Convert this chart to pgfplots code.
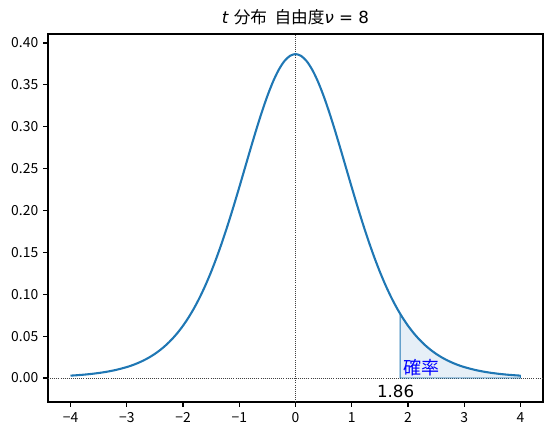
\documentclass[border=0pt]{standalone}
\usepackage{fontspec}
\setmainfont{DejaVu Sans}
\newfontfamily\cjk{Noto Sans CJK JP}
\usepackage{pgfplots}
\pgfplotsset{compat=1.18}
\definecolor{C0}{HTML}{1F77B4}
\definecolor{fillc}{RGB}{230,239,247}
\begin{document}
\begin{tikzpicture}
\useasboundingbox (-34.56pt,-24.48pt) rectangle (363.6pt,289.44pt);
\begin{axis}[
  at={(0,0)}, anchor=south west,
  scale only axis, width=356.4pt, height=264.96pt,
  xmin=-4.4, xmax=4.4, ymin=-0.0287, ymax=0.4107,
  axis line style={line width=0.8pt},
  tick align=outside, major tick length=3.5pt,
  xtick pos=bottom, ytick pos=left,
  every tick/.style={black, line width=0.8pt},
  xtick={-4,-3,-2,-1,0,1,2,3,4},
  xticklabels={−4,−3,−2,−1,0,1,2,3,4},
  ytick={0,0.05,0.1,0.15,0.2,0.25,0.3,0.35,0.4},
  yticklabels={0.00,0.05,0.10,0.15,0.20,0.25,0.30,0.35,0.40},
  ticklabel style={font=\cjk\fontsize{10}{12}\selectfont},
  xticklabel style={yshift=-0.5pt},
  title={{\itshape t}\ {\cjk 分布\ \ 自由度}{\itshape ν} = 8},
  title style={font=\fontsize{12}{14}\selectfont, yshift=-3pt},
  clip=false,
]
\addplot[black!75, line width=0.45pt, dash pattern=on 0.6pt off 0.9pt] coordinates {(-4.4,0) (4.4,0)};
\addplot[black!75, line width=0.45pt, dash pattern=on 0.6pt off 0.9pt] coordinates {(0,-0.0287) (0,0.4107)};
\addplot[fill=fillc, draw=C0, line width=0.6pt] coordinates {
(1.86,0) (1.86,0.07674) (1.9,0.07237) (2.0,0.06237) (2.1,0.05363) (2.2,0.04600)
(2.3,0.03940) (2.4,0.03370) (2.5,0.02879) (2.6,0.02457) (2.7,0.02097)
(2.8,0.01788) (2.9,0.01525) (3.0,0.01301) (3.2,0.00948) (3.4,0.00692)
(3.6,0.00507) (3.8,0.00373) (4.0,0.00276) (4.0,0)} -- cycle;
\addplot[C0, line width=1.5pt, smooth] coordinates {
(-4.0,0.00276) (-3.8,0.00373) (-3.6,0.00507) (-3.4,0.00692) (-3.2,0.00948)
(-3.0,0.01301) (-2.9,0.01525) (-2.8,0.01788) (-2.7,0.02097) (-2.6,0.02457)
(-2.5,0.02879) (-2.4,0.03370) (-2.3,0.03940) (-2.2,0.04600) (-2.1,0.05363)
(-2.0,0.06237) (-1.9,0.07237) (-1.8,0.08372) (-1.7,0.09653) (-1.6,0.11086)
(-1.5,0.12677) (-1.4,0.14425) (-1.3,0.16324) (-1.2,0.18361) (-1.1,0.20517)
(-1.0,0.22761) (-0.9,0.25055) (-0.8,0.27351) (-0.7,0.29593) (-0.6,0.31721)
(-0.5,0.33670) (-0.4,0.35373) (-0.3,0.36771) (-0.2,0.37812) (-0.1,0.38453)
(0.0,0.38670)
(0.1,0.38453) (0.2,0.37812) (0.3,0.36771) (0.4,0.35373) (0.5,0.33670)
(0.6,0.31721) (0.7,0.29593) (0.8,0.27351) (0.9,0.25055) (1.0,0.22761)
(1.1,0.20517) (1.2,0.18361) (1.3,0.16324) (1.4,0.14425) (1.5,0.12677)
(1.6,0.11086) (1.7,0.09653) (1.8,0.08372) (1.9,0.07237) (2.0,0.06237)
(2.1,0.05363) (2.2,0.04600) (2.3,0.03940) (2.4,0.03370) (2.5,0.02879)
(2.6,0.02457) (2.7,0.02097) (2.8,0.01788) (2.9,0.01525) (3.0,0.01301)
(3.2,0.00948) (3.4,0.00692) (3.6,0.00507) (3.8,0.00373) (4.0,0.00276)};
\node[anchor=base west, inner sep=0pt, text=blue, font=\cjk\fontsize{13}{15}\selectfont] at (axis cs:1.91,0.0045) {確率};
\node[anchor=base, inner sep=0pt, font=\fontsize{12}{14}\selectfont] at (axis cs:1.78,-0.0235) {1.86};
\end{axis}
\end{tikzpicture}
\end{document}
